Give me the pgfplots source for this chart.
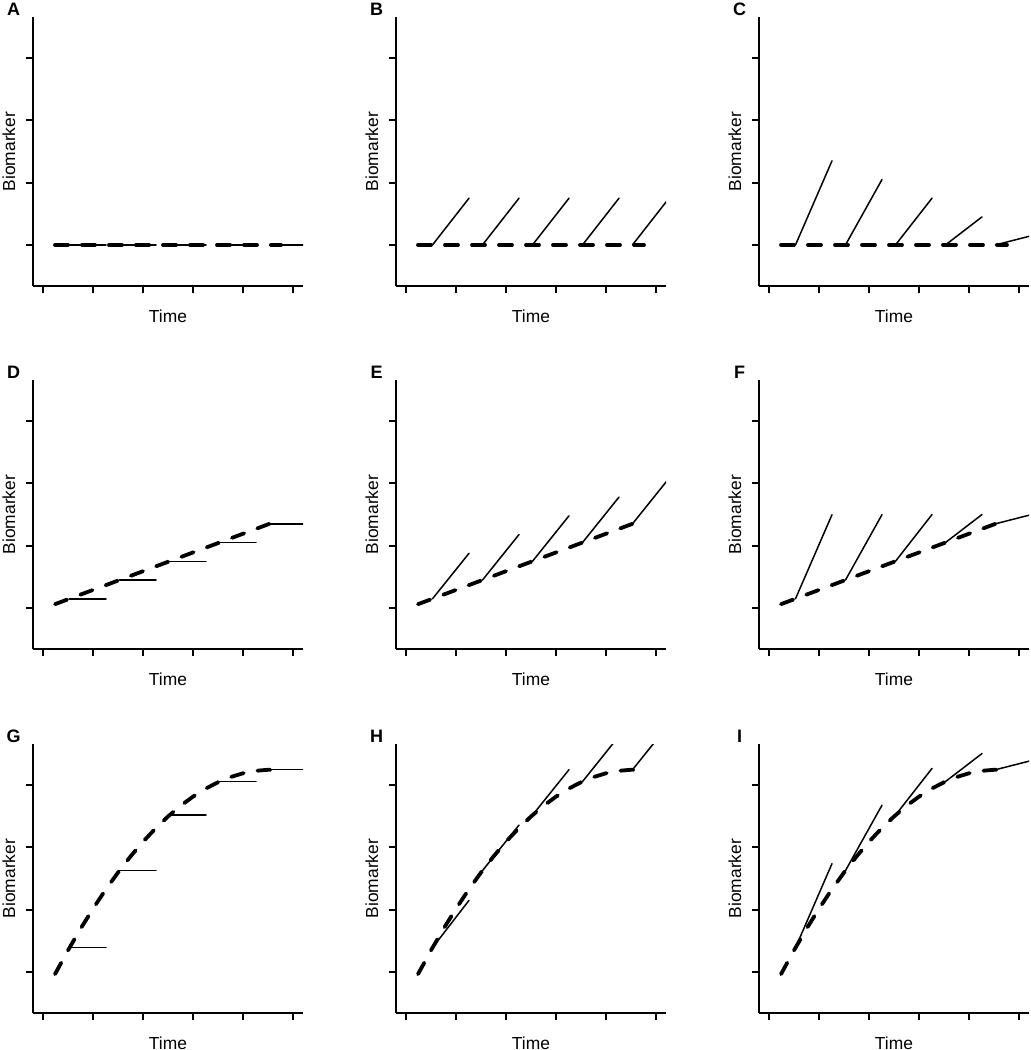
\documentclass[border=0pt]{standalone}
\usepackage{pgfplots}
\pgfplotsset{compat=1.18}
\usepackage{fontspec}
\setmainfont{Liberation Sans}
\newcommand\lbl{\fontsize{8.7pt}{10pt}\selectfont}
\newcommand\lblb{\fontsize{9pt}{10pt}\selectfont\bfseries}
\pgfplotsset{
  panel/.style={
    scale only axis, width=135pt, height=134.5pt,
    xmin=-0.2, xmax=5.2, ymin=0.34, ymax=4.66,
    axis x line=bottom, axis y line=left,
    axis line style={-, line width=1pt, black},
    xtick={0,1,2,3,4,5}, ytick={1,2,3,4},
    xticklabels={}, yticklabels={},
    tick align=outside, major tick length=3.5pt,
    every tick/.style={black, line width=1pt},
    xlabel={Time}, ylabel={Biomarker},
    xlabel style={at={(axis description cs:0.5,-0.112)}, anchor=center, font=\lbl},
    ylabel style={at={(axis description cs:-0.089,0.5)}, anchor=center, font=\lbl},
    every axis title/.style={at={(axis description cs:-0.072,1)}, anchor=base, yshift=1pt, inner sep=0pt, font=\lblb},
    clip=true,
  },
  sol/.style={black, line width=0.75pt, line cap=round},
  dsh/.style={black, line width=1.9pt, line cap=round, dash pattern=on 6.5pt off 7pt},
}
\begin{document}
\begin{tikzpicture}
\path[use as bounding box] (0,0) rectangle (515.5pt,-525pt);

% ---------- Row 1 ----------
\begin{axis}[panel, title={A}, at={(16.5pt,-143pt)}, anchor=south west]
\addplot[dsh] coordinates {(0.24,1) (4.76,1)};
\addplot[sol] coordinates {(0.53,1) (1.26,1)};
\addplot[sol] coordinates {(1.53,1) (2.26,1)};
\addplot[sol] coordinates {(2.53,1) (3.26,1)};
\addplot[sol] coordinates {(3.53,1) (4.26,1)};
\addplot[sol] coordinates {(4.53,1) (5.26,1)};
\end{axis}

\begin{axis}[panel, title={B}, at={(198pt,-143pt)}, anchor=south west]
\addplot[dsh] coordinates {(0.24,1) (4.76,1)};
\addplot[sol] coordinates {(0.53,1) (1.26,1.75)};
\addplot[sol] coordinates {(1.53,1) (2.26,1.75)};
\addplot[sol] coordinates {(2.53,1) (3.26,1.75)};
\addplot[sol] coordinates {(3.53,1) (4.26,1.75)};
\addplot[sol] coordinates {(4.53,1) (5.26,1.75)};
\end{axis}

\begin{axis}[panel, title={C}, at={(379.5pt,-143pt)}, anchor=south west]
\addplot[dsh] coordinates {(0.24,1) (4.76,1)};
\addplot[sol] coordinates {(0.53,1) (1.26,2.35)};
\addplot[sol] coordinates {(1.53,1) (2.26,2.05)};
\addplot[sol] coordinates {(2.53,1) (3.26,1.75)};
\addplot[sol] coordinates {(3.53,1) (4.26,1.45)};
\addplot[sol] coordinates {(4.53,1) (5.26,1.15)};
\end{axis}

% ---------- Row 2 ----------
\begin{axis}[panel, title={D}, at={(16.5pt,-324.5pt)}, anchor=south west]
\addplot[dsh] coordinates {(0.24,1.06) (4.76,2.42)};
\addplot[sol] coordinates {(0.53,1.147) (1.26,1.147)};
\addplot[sol] coordinates {(1.53,1.448) (2.26,1.448)};
\addplot[sol] coordinates {(2.53,1.749) (3.26,1.749)};
\addplot[sol] coordinates {(3.53,2.050) (4.26,2.050)};
\addplot[sol] coordinates {(4.53,2.351) (5.26,2.351)};
\end{axis}

\begin{axis}[panel, title={E}, at={(198pt,-324.5pt)}, anchor=south west]
\addplot[dsh] coordinates {(0.24,1.06) (4.76,2.42)};
\addplot[sol] coordinates {(0.53,1.147) (1.26,1.877)};
\addplot[sol] coordinates {(1.53,1.448) (2.26,2.178)};
\addplot[sol] coordinates {(2.53,1.749) (3.26,2.479)};
\addplot[sol] coordinates {(3.53,2.050) (4.26,2.780)};
\addplot[sol] coordinates {(4.53,2.351) (5.26,3.081)};
\end{axis}

\begin{axis}[panel, title={F}, at={(379.5pt,-324.5pt)}, anchor=south west]
\addplot[dsh] coordinates {(0.24,1.06) (4.76,2.42)};
\addplot[sol] coordinates {(0.53,1.147) (1.26,2.497)};
\addplot[sol] coordinates {(1.53,1.448) (2.26,2.498)};
\addplot[sol] coordinates {(2.53,1.749) (3.26,2.499)};
\addplot[sol] coordinates {(3.53,2.050) (4.26,2.500)};
\addplot[sol] coordinates {(4.53,2.351) (5.26,2.501)};
\end{axis}

% ---------- Row 3 ----------
\begin{axis}[panel, title={G}, at={(16.5pt,-506.5pt)}, anchor=south west]
\addplot[dsh] coordinates {(0.24,0.964) (0.5,1.346) (0.75,1.692) (1.0,2.015) (1.25,2.317) (1.5,2.596) (1.75,2.854) (2.0,3.090) (2.25,3.304) (2.5,3.496) (2.75,3.667) (3.0,3.815) (3.25,3.942) (3.5,4.046) (3.75,4.129) (4.0,4.190) (4.25,4.229) (4.5,4.246) (4.76,4.241)};
\addplot[sol] coordinates {(0.53,1.389) (1.26,1.389)};
\addplot[sol] coordinates {(1.53,2.628) (2.26,2.628)};
\addplot[sol] coordinates {(2.53,3.518) (3.26,3.518)};
\addplot[sol] coordinates {(3.53,4.057) (4.26,4.057)};
\addplot[sol] coordinates {(4.53,4.247) (5.26,4.247)};
\end{axis}

\begin{axis}[panel, title={H}, at={(198pt,-506.5pt)}, anchor=south west]
\addplot[dsh] coordinates {(0.24,0.964) (0.5,1.346) (0.75,1.692) (1.0,2.015) (1.25,2.317) (1.5,2.596) (1.75,2.854) (2.0,3.090) (2.25,3.304) (2.5,3.496) (2.75,3.667) (3.0,3.815) (3.25,3.942) (3.5,4.046) (3.75,4.129) (4.0,4.190) (4.25,4.229) (4.5,4.246) (4.76,4.241)};
\addplot[sol] coordinates {(0.53,1.389) (1.26,2.149)};
\addplot[sol] coordinates {(1.53,2.628) (2.26,3.358)};
\addplot[sol] coordinates {(2.53,3.518) (3.26,4.248)};
\addplot[sol] coordinates {(3.53,4.057) (4.26,4.787)};
\addplot[sol] coordinates {(4.53,4.247) (5.26,4.977)};
\end{axis}

\begin{axis}[panel, title={I}, at={(379.5pt,-506.5pt)}, anchor=south west]
\addplot[dsh] coordinates {(0.24,0.964) (0.5,1.346) (0.75,1.692) (1.0,2.015) (1.25,2.317) (1.5,2.596) (1.75,2.854) (2.0,3.090) (2.25,3.304) (2.5,3.496) (2.75,3.667) (3.0,3.815) (3.25,3.942) (3.5,4.046) (3.75,4.129) (4.0,4.190) (4.25,4.229) (4.5,4.246) (4.76,4.241)};
\addplot[sol] coordinates {(0.53,1.389) (1.26,2.739)};
\addplot[sol] coordinates {(1.53,2.628) (2.26,3.678)};
\addplot[sol] coordinates {(2.53,3.518) (3.26,4.268)};
\addplot[sol] coordinates {(3.53,4.057) (4.26,4.507)};
\addplot[sol] coordinates {(4.53,4.247) (5.26,4.397)};
\end{axis}
\end{tikzpicture}
\end{document}
